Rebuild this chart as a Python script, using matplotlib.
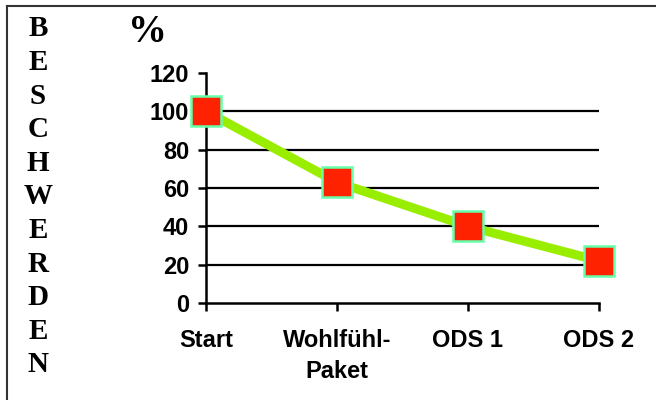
import matplotlib
matplotlib.use("Agg")
import matplotlib.pyplot as plt
from matplotlib.lines import Line2D

categories = ["Start", "Wohlfühl-\nPaket", "ODS 1", "ODS 2"]
values = [100, 63, 40, 22]
y_ticks = [0, 20, 40, 60, 80, 100, 120]
side_word = "BESCHWERDEN"

fig = plt.figure(figsize=(6.56, 4.0), dpi=100)
ax = fig.add_axes([0.314, 0.2425, 0.599, 0.575])

x = list(range(len(categories)))
ax.plot(x, values, color="#99ee00", linewidth=6.5, zorder=3, solid_capstyle="butt")
ax.plot(x, values, linestyle="none", marker="s", markersize=21,
        markerfacecolor="#ff2200", markeredgecolor="#66ffaa",
        markeredgewidth=1.8, zorder=4, clip_on=False)

ax.set_xlim(0, 3)
ax.set_ylim(0, 120)
ax.set_yticks(y_ticks)
ax.set_xticks(x)
ax.set_xticklabels(categories)
for yv in y_ticks[1:-1]:
    ax.axhline(yv, color="black", linewidth=1.6, zorder=1)

for s in ["top", "right"]:
    ax.spines[s].set_visible(False)
for s in ["left", "bottom"]:
    ax.spines[s].set_linewidth(1.8)
ax.tick_params(axis="both", direction="out", length=6, width=1.8)
ax.tick_params(axis="y", pad=6)
ax.tick_params(axis="x", pad=13)
for lab in ax.get_xticklabels() + ax.get_yticklabels():
    lab.set_fontfamily("Liberation Sans")
    lab.set_fontweight("bold")
    lab.set_fontsize(17)
for lab in ax.get_xticklabels():
    lab.set_linespacing(1.45)

# vertical letter label
for i, ch in enumerate(side_word):
    fig.text(38 / 656, 1 - (29 + i * 33.6) / 400, ch, ha="center", va="center",
             family="Liberation Serif", fontweight="bold", fontsize=21)
fig.text(147 / 656, 1 - 33 / 400, "%", ha="center", va="center",
         family="Liberation Serif", fontweight="bold", fontsize=28)

# frame lines top and left
fig.add_artist(Line2D([7 / 656, 1], [1 - 6 / 400, 1 - 6 / 400], color="#333333", linewidth=1.5))
fig.add_artist(Line2D([7 / 656, 7 / 656], [0, 1 - 6 / 400], color="#333333", linewidth=1.5))

fig.savefig("out.png", dpi=100)
